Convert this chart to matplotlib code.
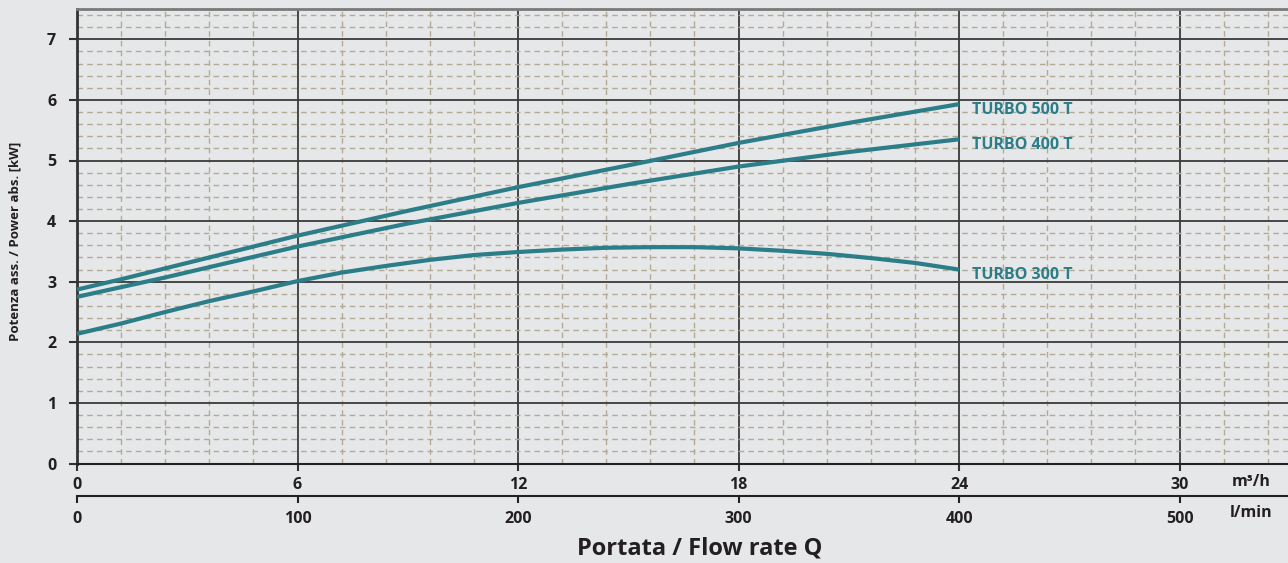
import numpy as np
import matplotlib.pyplot as plt
from matplotlib.ticker import MultipleLocator

plt.rcParams['font.family'] = ['Open Sans', 'DejaVu Sans']
plt.rcParams['font.weight'] = 'bold'

# flow rate in m3/h
q_a = [0, 1.2, 2.4, 3.6, 4.8, 6, 9, 12, 15, 18, 21, 24]
q_b = [0, 1.2, 2.4, 3.6, 4.8, 6, 7.2, 8.4, 9.6, 10.8, 12, 13.2, 14.4,
       15.6, 16.8, 18, 19.2, 20.4, 21.6, 22.8, 24]
# absorbed power [kW]
p_500 = [2.87, 3.04, 3.22, 3.40, 3.58, 3.76, 4.17, 4.56, 4.92, 5.29, 5.62, 5.93]
p_400 = [2.75, 2.91, 3.07, 3.24, 3.41, 3.58, 3.96, 4.30, 4.61, 4.90, 5.14, 5.35]
p_300 = [2.14, 2.31, 2.50, 2.68, 2.84, 3.01, 3.15, 3.26, 3.36, 3.44, 3.49,
         3.53, 3.56, 3.57, 3.57, 3.55, 3.51, 3.46, 3.39, 3.31, 3.20]
names = ["TURBO 500 T", "TURBO 400 T", "TURBO 300 T"]

bg = "#e6e7e9"
teal = "#2b7d88"
txt = "#231f20"

fig = plt.figure(figsize=(12.88, 5.63), dpi=100, facecolor=bg)
ax = fig.add_axes([77/1288, 1 - 463.5/563, 1 - 77/1288, (463.5 - 9)/563])
ax.set_facecolor(bg)

ax.set_xlim(0, 32.95)
ax.set_ylim(0, 7.5)

ax.xaxis.set_major_locator(MultipleLocator(6))
ax.xaxis.set_minor_locator(MultipleLocator(1.2))
ax.yaxis.set_major_locator(MultipleLocator(1))
ax.yaxis.set_minor_locator(MultipleLocator(0.2))

ax.grid(which='minor', color='#b3aa96', linestyle=(0, (4, 3)), linewidth=1.0)
ax.grid(which='major', color='#3a3a3a', linestyle='-', linewidth=1.3)
ax.set_axisbelow(True)

ax.spines['right'].set_visible(False)
ax.spines['top'].set_color('#7a7a7a')
ax.spines['top'].set_linewidth(2)
ax.spines['left'].set_color('#333333')
ax.spines['left'].set_linewidth(2)
ax.spines['bottom'].set_color('#222222')
ax.spines['bottom'].set_linewidth(1.5)

ax.tick_params(which='minor', length=0)
ax.tick_params(axis='y', which='major', length=6, width=1.5, color='#333333',
               labelsize=11.5, labelcolor=txt, pad=9)
ax.tick_params(axis='x', which='major', length=5, width=1.5, color='#333333',
               labelsize=11.5, labelcolor=txt, pad=5)
ax.set_xticks([0, 6, 12, 18, 24, 30])
ax.set_yticks(range(0, 8))

for x, y, name in zip([q_a, q_a, q_b], [p_500, p_400, p_300], names):
    ax.plot(x, y, color=teal, linewidth=3, solid_capstyle='butt',
            solid_joinstyle='round', zorder=3)
    ax.text(x[-1] + 0.35, y[-1] - 0.09, name, color=teal, fontsize=11.5,
            fontweight='bold', va='center', ha='left', zorder=4)

# second scale in l/min
sec = ax.secondary_xaxis(-(495.5 - 463.5)/454.5,
                         functions=(lambda x: x*100/6, lambda x: x*6/100))
sec.set_xticks([0, 100, 200, 300, 400, 500])
sec.spines['bottom'].set_color('#222222')
sec.spines['bottom'].set_linewidth(1.5)
sec.tick_params(length=5, width=1.5, color='#222222', labelsize=11.5,
                labelcolor=txt, pad=6)

xt = ax.get_xaxis_transform()
ax.text(31.95, -(482 - 463.5)/454.5, "m³/h", transform=xt, ha='center',
        va='center', fontsize=11.5, fontweight='bold', color=txt)
ax.text(31.95, -(513 - 463.5)/454.5, "l/min", transform=xt, ha='center',
        va='center', fontsize=11.5, fontweight='bold', color=txt)

fig.text(700/1288, 1 - 549/563, "Portata / Flow rate Q", ha='center',
         va='center', fontsize=17, fontweight='bold', color=txt)
fig.text(15/1288, 1 - 241/563, "Potenza ass. / Power abs. [kW]", ha='center',
         va='center', rotation=90, fontsize=9.5, fontweight='bold', color=txt)

fig.savefig("out.png", dpi=100, facecolor=bg)
